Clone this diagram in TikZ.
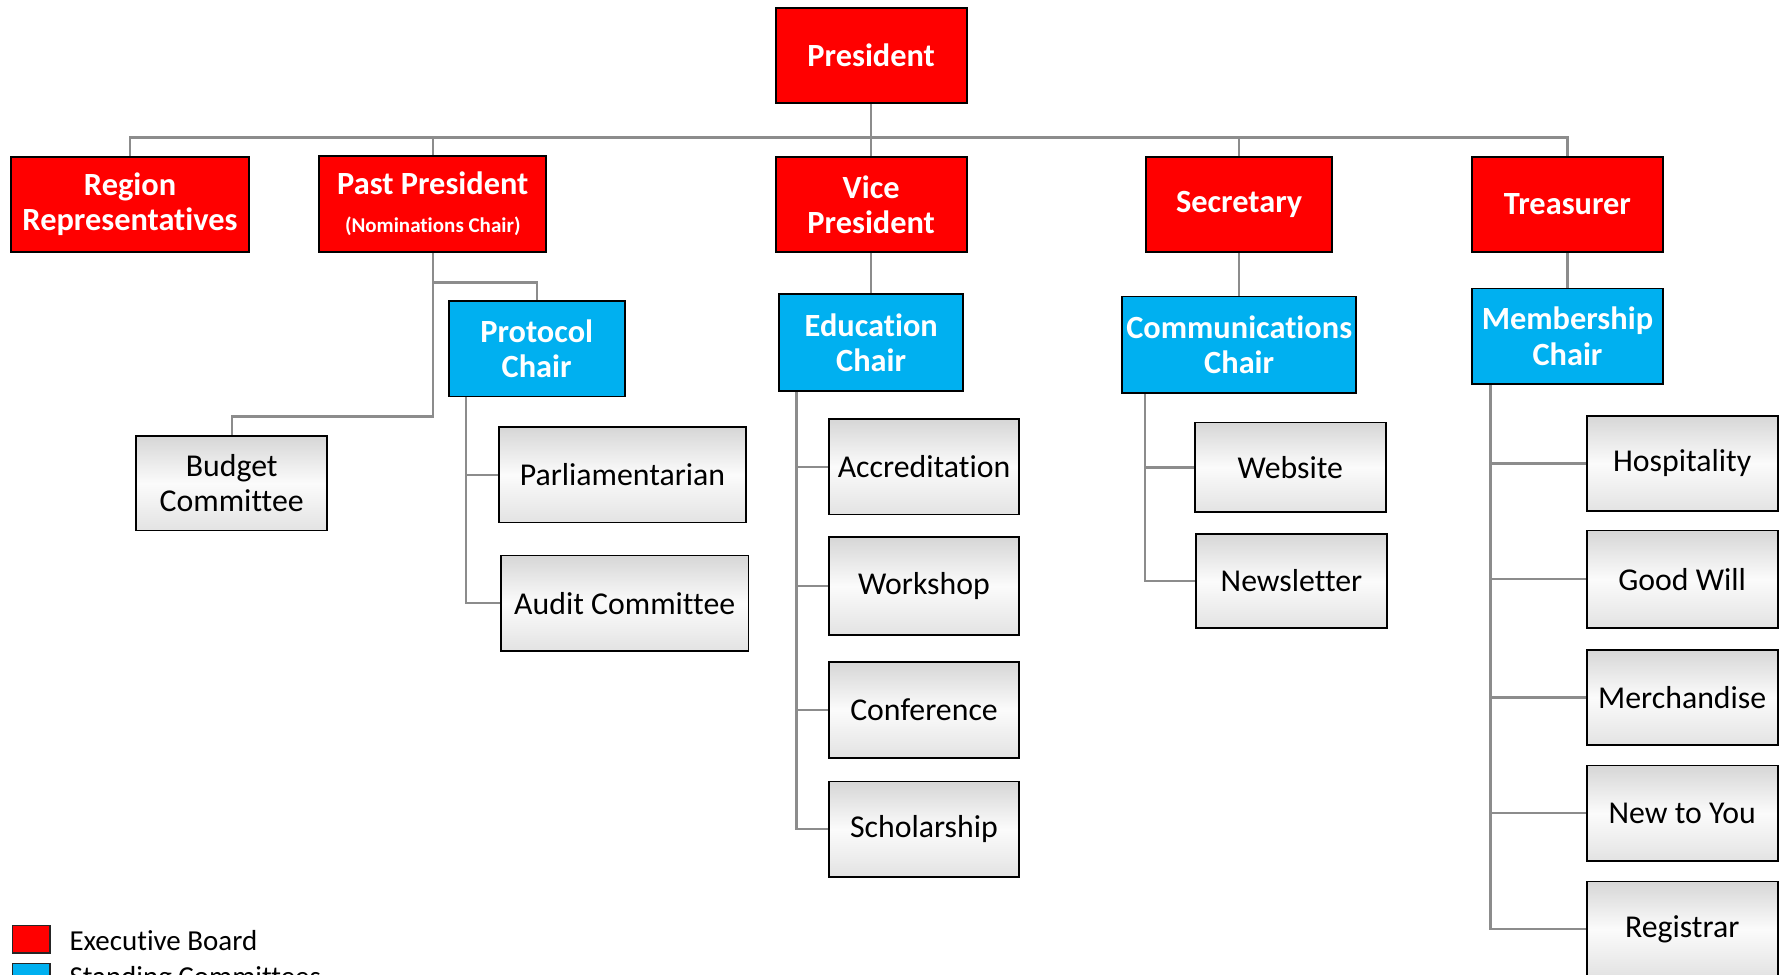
\documentclass[tikz,border=0pt]{standalone}
\usepackage{fontspec}
\setmainfont{Carlito}[Ligatures=NoCommon]
\usetikzlibrary{backgrounds}
\definecolor{exred}{HTML}{FF0000}
\definecolor{stblue}{HTML}{00B0F0}
\definecolor{conngray}{HTML}{8C8C8C}
\begin{document}
\begin{tikzpicture}[x=1pt,y=-1pt,
  box/.style={draw=black,line width=1.6pt,inner sep=0pt,align=center},
  exec/.style={box,fill=exred,text=white,font=\bfseries\fontsize{28.5}{31}\selectfont,minimum height=84pt},
  stand/.style={box,fill=stblue,text=white,font=\bfseries\fontsize{28.5}{31}\selectfont,minimum height=85pt},
  sub/.style={box,top color=gray!32,bottom color=gray!22,middle color=white!97!gray,text=black,font=\fontsize{28}{31}\selectfont,minimum height=84pt,minimum width=168pt},
  conn/.style={draw=conngray,line width=2pt},
  legbox/.style={draw=black!85,line width=1.2pt,minimum width=33pt,minimum height=24pt,inner sep=0pt},
  legtext/.style={anchor=west,inner sep=0pt,font=\fontsize{25.5}{29}\selectfont}
]
\useasboundingbox (0,0) rectangle (1568,858);
\clip (0,0) rectangle (1568,858);
\coordinate (bar) at (0,121);

% executive board
\node[exec,minimum width=168pt] (pres) at (767,49) {President};
\node[exec,minimum width=209pt] (region) at (114.5,180) {Region\\Representatives};
\node[exec,minimum width=200pt,minimum height=85pt] (past) at (381,179.5) {Past President\\[2pt]{\fontsize{18.5}{20}\selectfont (Nominations Chair)}};
\node[exec,minimum width=168pt] (vp) at (767,180) {Vice\\President};
\node[exec,minimum width=164pt] (secr) at (1091,180) {Secretary};
\node[exec,minimum width=168pt] (treas) at (1380,180) {Treasurer};

% standing committees
\node[stand,minimum width=155pt,minimum height=84pt] (proto) at (472.5,307) {Protocol\\Chair};
\node[stand,minimum width=162pt] (edu) at (767,301.5) {Education\\Chair};
\node[stand,minimum width=206pt] (comm) at (1091,303.5) {Communications\\Chair};
\node[stand,minimum width=168pt,minimum height=84pt] (memb) at (1380,296) {Membership\\Chair};

% sub committees
\node[sub,minimum height=83pt] (budget) at (204,425.5) {Budget\\Committee};
\node[sub,minimum width=218pt] (parl) at (548,418) {Parliamentarian};
\node[sub,minimum width=218pt] (audit) at (550,531) {Audit Committee};
\node[sub,minimum width=167pt] (accr) at (813.5,411) {Accreditation};
\node[sub,minimum width=167pt,minimum height=86pt] (work) at (813.5,516) {Workshop};
\node[sub,minimum width=167pt] (conf) at (813.5,625) {Conference};
\node[sub,minimum width=167pt] (schol) at (813.5,730) {Scholarship};
\node[sub,minimum height=79pt] (web) at (1136,411.5) {Website};
\node[sub,minimum height=83pt] (news) at (1137,511.5) {Newsletter};
\node[sub] (hosp) at (1481,408) {Hospitality};
\node[sub,minimum height=86pt] (good) at (1481,510) {Good Will};
\node[sub] (merch) at (1481,614) {Merchandise};
\node[sub] (newyou) at (1481,716) {New to You};
\node[sub] (regis) at (1481,818) {Registrar};

% connectors
\begin{scope}[on background layer]
\draw[conn] (pres.south) -- (vp.north);
\draw[conn] (region.north) -- (region.north |- bar) -- (treas.north |- bar) -- (treas.north);
\draw[conn] (past.north) -- (past.north |- bar);
\draw[conn] (secr.north) -- (secr.north |- bar);
\draw[conn] (past.south) -- ++(0,26) -| (proto.north);
\draw[conn] (past.south) -- ++(0,144) -| (budget.north);
\coordinate (pv) at ([xshift=16pt]proto.south west);
\draw[conn] (pv) |- (audit.west);
\draw[conn] (pv |- parl.west) -- (parl.west);
\draw[conn] (edu.south) -- (vp.south);
\coordinate (ev) at ([xshift=16pt]edu.south west);
\draw[conn] (ev) |- (schol.west);
\draw[conn] (ev |- accr.west) -- (accr.west);
\draw[conn] (ev |- work.west) -- (work.west);
\draw[conn] (ev |- conf.west) -- (conf.west);
\draw[conn] (comm.north) -- (secr.south);
\coordinate (cv) at ([xshift=21pt]comm.south west);
\draw[conn] (cv) |- (news.west);
\draw[conn] (cv |- web.west) -- (web.west);
\draw[conn] (memb.north) -- (treas.south);
\coordinate (mv) at ([xshift=17pt]memb.south west);
\draw[conn] (mv) |- (regis.west);
\draw[conn] (mv |- hosp.west) -- (hosp.west);
\draw[conn] (mv |- good.west) -- (good.west);
\draw[conn] (mv |- merch.west) -- (merch.west);
\draw[conn] (mv |- newyou.west) -- (newyou.west);
\end{scope}

% legend
\node[legbox,fill=exred] (legred) at (27.5,827) {};
\node[legtext] (legredt) at (61,828) {Executive Board};
\node[legbox,fill=stblue] (legblue) at (27.5,860) {};
\node[legtext] (legbluet) at (61,862) {Standing Committees};
\end{tikzpicture}
\end{document}
